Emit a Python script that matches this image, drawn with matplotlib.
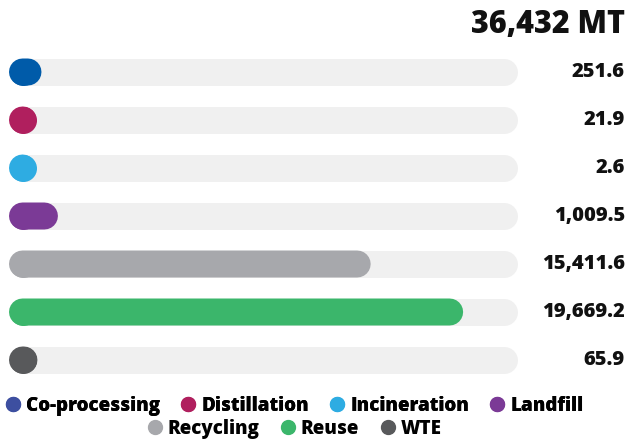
import matplotlib
matplotlib.use('Agg')
import matplotlib.pyplot as plt
from matplotlib.lines import Line2D

categories = ['Co-processing', 'Distillation', 'Incineration', 'Landfill', 'Recycling', 'Reuse', 'WTE']
values = [251.6, 21.9, 2.6, 1009.5, 15411.6, 19669.2, 65.9]
total_label = '36,432 MT'
bar_colors = ['#005ba9', '#b01f5e', '#2eace2', '#7b3a96', '#a7a8ac', '#3bb66b', '#58595b']
legend_colors = ['#3d4fa0', '#b01f5e', '#2eace2', '#7b3a96', '#a7a8ac', '#3bb66b', '#58595b']

plt.rcParams['font.family'] = ['Open Sans', 'DejaVu Sans']

W, H = 629, 441
fig = plt.figure(figsize=(W / 100, H / 100), dpi=100)
track_max = 22150
lw = 27 * 0.72

# axes placed so row i sits at 72 + 48*i px from the top
ax = fig.add_axes([22.5 / W, (H - 384) / H, 481 / W, 336 / H])
ax.set_xlim(0, track_max)
ax.set_ylim(len(values) - 0.5, -0.5)
ax.axis('off')

for i, v in enumerate(values):
    ax.plot([0, track_max], [i, i], color='#f0f0f0', lw=lw, solid_capstyle='round',
            zorder=1, clip_on=False)
    # marker at the start keeps tiny values visible as dots
    ax.plot([0, v], [i, i], color=bar_colors[i], lw=lw, solid_capstyle='round',
            marker='o', markevery=[0], ms=lw, mew=0, zorder=2, clip_on=False, snap=False)
    ypix = 72 + 48 * i
    fig.text(625 / W, 1 - ypix / H, f'{v:,.1f}', ha='right', va='center',
             fontsize=14.5, fontweight='heavy', color='#111111')

fig.text(625 / W, 1 - 25 / H, total_label, ha='right', va='center',
         fontsize=22, fontweight='heavy', color='#111111')

handles = [Line2D([], [], marker='o', ls='', ms=10, color=c) for c in legend_colors]
kw = dict(frameon=False, handletextpad=0.2, columnspacing=1.0, handlelength=1.0,
          prop={'weight': 'heavy', 'size': 13.5}, loc='center')
cx = 293.5 / W
leg1 = fig.legend(handles[:4], categories[:4], ncol=4, bbox_to_anchor=(cx, 1 - 406 / H), **kw)
fig.add_artist(leg1)
fig.legend(handles[4:], categories[4:], ncol=3, bbox_to_anchor=(cx, 1 - 429 / H), **kw)

fig.savefig('out.png', dpi=100)
